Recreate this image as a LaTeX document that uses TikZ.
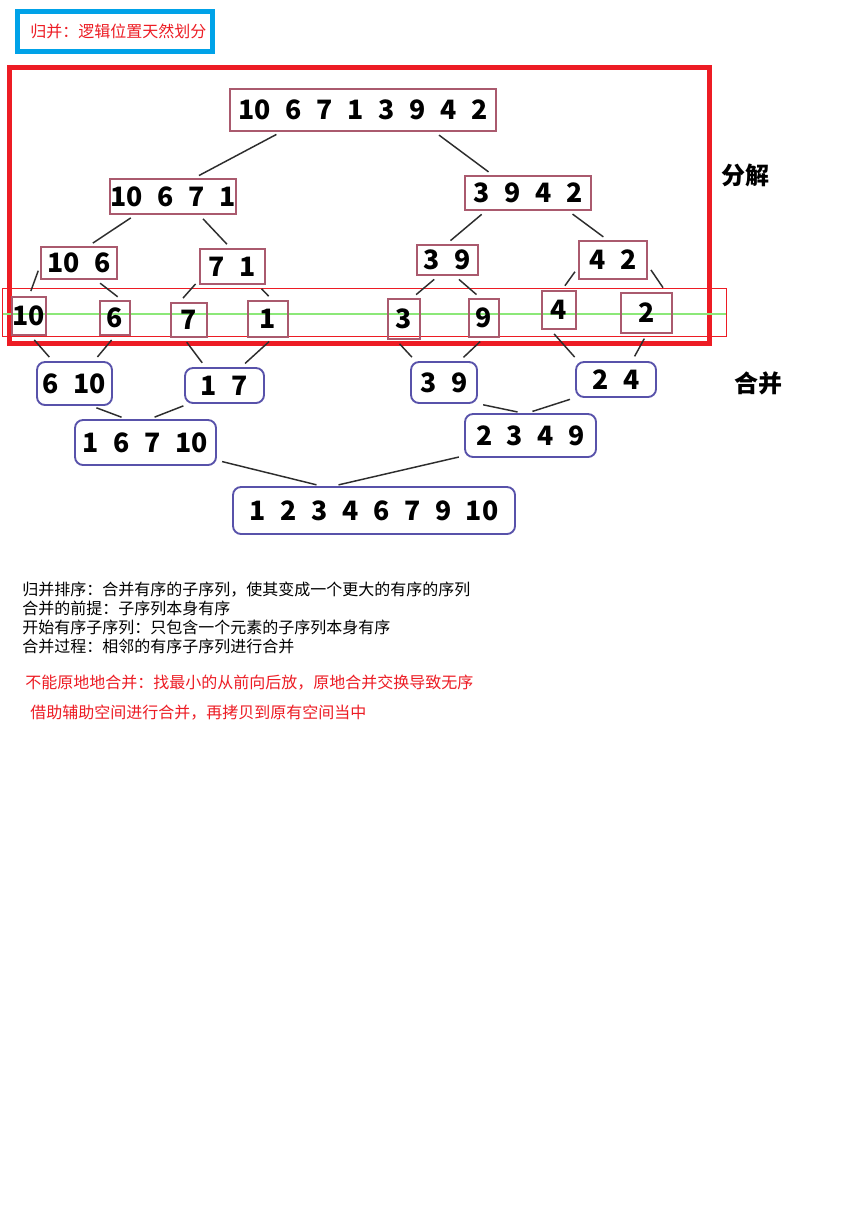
\documentclass[tikz,border=0pt]{standalone}
\usepackage{fontspec}
\setmainfont{Noto Sans CJK SC}
\usepackage{xcolor}
\usetikzlibrary{positioning}
\definecolor{FrameRed}{RGB}{237, 28, 36}
\definecolor{FrameBlue}{RGB}{0, 162, 232}
\definecolor{SplitRose}{RGB}{170, 90, 110}
\definecolor{MergeViolet}{RGB}{88, 82, 170}
\definecolor{LineGray}{RGB}{45, 45, 45}
\definecolor{GuideGreen}{RGB}{140, 232, 120}
\newcommand{\numfont}{\bfseries\fontsize{20}{24}\selectfont\spaceskip=0.55em\relax}
\tikzset{
    boxsize/.style 2 args={minimum width=#1*0.75pt, minimum height=#2*0.75pt},
    splitbox/.style={rectangle, draw=SplitRose, line width=1.4pt, inner sep=0pt, font=\numfont},
    mergebox/.style={rectangle, draw=MergeViolet, line width=1.4pt, rounded corners=6pt, inner sep=0pt, font=\numfont},
    link/.style={draw=LineGray, line width=1.1pt, shorten <=4pt, shorten >=4pt},
    note/.style={anchor=west, inner sep=0pt, font=\fontsize{12}{14.25}\selectfont},
}

\begin{document}
\begin{tikzpicture}[x=0.75pt, y=-0.75pt]
    \useasboundingbox[fill=white] (0,0) rectangle (856,1216);

    % title box
    \draw[FrameBlue, line width=3.75pt] (17,12) rectangle (212,52);
    \node[note, text=FrameRed] (title) at (30,31) {归并：逻辑位置天然划分};

    % split frame and guide line
    \draw[FrameRed, line width=3.75pt] (9.5,67.5) rectangle (709.5,343);
    \draw[GuideGreen, line width=1.5pt] (2.5,314) -- (726.5,314);
    \draw[FrameRed, line width=0.75pt] (2.5,288.5) rectangle (726.5,336.5);

    % split tree
    \node[splitbox, boxsize={266}{42}] (all) at (363,110) {10 6 7 1 3 9 4 2};
    \node[splitbox, boxsize={126}{35}] (left) at (173,196.5) {10 6 7 1};
    \node[splitbox, boxsize={126}{34}] (right) at (528,193) {3 9 4 2};
    \node[splitbox, boxsize={76}{32}] (lefta) at (79,263) {10 6};
    \node[splitbox, boxsize={65}{35}] (leftb) at (232.5,266.5) {7 1};
    \node[splitbox, boxsize={61}{30}] (righta) at (447.5,260) {3 9};
    \node[splitbox, boxsize={68}{38}] (rightb) at (613,260) {4 2};
    \node[splitbox, boxsize={34}{38}] (one10) at (29,316) {10};
    \node[splitbox, boxsize={30}{34}] (one6) at (115,318) {6};
    \node[splitbox, boxsize={36}{34}] (one7) at (189,320) {7};
    \node[splitbox, boxsize={40}{36}] (one1) at (268,319) {1};
    \node[splitbox, boxsize={32}{40}] (one3) at (404,319) {3};
    \node[splitbox, boxsize={30}{38}] (one9) at (484,318) {9};
    \node[splitbox, boxsize={34}{38}] (one4) at (559,310) {4};
    \node[splitbox, boxsize={51}{40}] (one2) at (646.5,313) {2};

    % merge tree
    \node[mergebox, boxsize={75}{43}] (pair610) at (74.5,383.5) {6 10};
    \node[mergebox, boxsize={79}{35}] (pair17) at (224.5,385.5) {1 7};
    \node[mergebox, boxsize={66}{41}] (pair39) at (444,382.5) {3 9};
    \node[mergebox, boxsize={80}{35}] (pair24) at (616,379.5) {2 4};
    \node[mergebox, boxsize={141}{45}] (quad1) at (145.5,442.5) {1 6 7 10};
    \node[mergebox, boxsize={131}{43}] (quad2) at (530.5,435.5) {2 3 4 9};
    \node[mergebox, boxsize={282}{47}] (sorted) at (374,510.5) {1 2 3 4 6 7 9 10};

    \node[font=\bfseries\fontsize{18}{20}\selectfont] (splitlabel) at (745,175) {分解};
    \node[font=\bfseries\fontsize{18}{20}\selectfont] (mergelabel) at (758,383) {合并};

    % split links
    \foreach \a/\b in {all.195/left.41, all.343/right.153, left.206/lefta.61, left.325/leftb.96,
        right.203/righta.94, right.336/rightb.105, lefta.184/one10.90, lefta.315/one6.69,
        leftb.202/one7.118, leftb.324/one1.77, righta.240/one3.69, righta.295/one9.100,
        rightb.192/one4.82, rightb.351/one2.47}
        \draw[link] (\a) -- (\b);
    % merge links
    \foreach \a/\b in {one10.275/pair610.134, one6.270/pair610.49, one7.253/pair17.136, one1.285/pair17.48,
        one3.249/pair39.143, one9.270/pair39.54, one4.247/pair24.154, one2.271/pair24.49,
        pair610.307/quad1.129, pair17.207/quad1.80, pair39.328/quad2.109, pair24.204/quad2.98,
        quad1.346/sorted.155, quad2.197/sorted.149}
        \draw[link] (\a) -- (\b);

    % notes
    \node[note, anchor=north west, align=left] (notes) at (22,582) {归并排序：合并有序的子序列，使其变成一个更大的有序的序列\\
        合并的前提：子序列本身有序\\
        开始有序子序列：只包含一个元素的子序列本身有序\\
        合并过程：相邻的有序子序列进行合并};
    \node[note, text=FrameRed] (inplace) at (25,683) {不能原地地合并：找最小的从前向后放，原地合并交换导致无序};
    \node[note, text=FrameRed] (buffer) at (30,713) {借助辅助空间进行合并，再拷贝到原有空间当中};
\end{tikzpicture}
\end{document}
